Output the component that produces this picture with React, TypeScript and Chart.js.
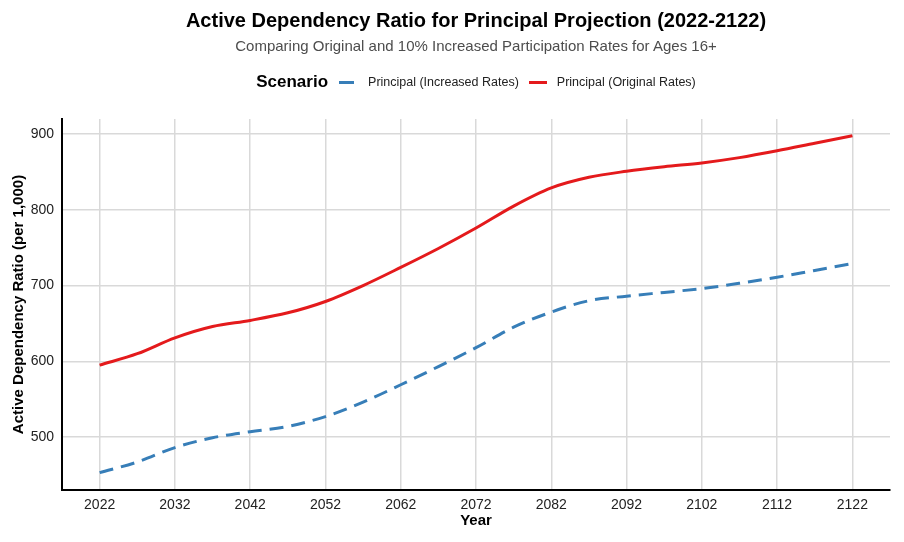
import { useEffect, useRef } from 'react'
import { Chart, registerables } from 'chart.js'

Chart.register(...registerables)

const years = [
  2022, 2027, 2032, 2037, 2042, 2047, 2052, 2057, 2062, 2067, 2072, 2077, 2082, 2087, 2092, 2097,
  2102, 2107, 2112, 2117, 2122,
]
const originalRates = [
  595, 610, 631, 646, 654, 664, 679, 700, 724, 749, 776, 805, 829, 843, 851, 857, 862, 869, 878,
  888, 898,
]
const increasedRates = [
  453, 467, 486, 499, 507, 514, 527, 546, 569, 593, 618, 645, 665, 680, 686, 691, 696, 703, 711,
  720, 729,
]
const xTicks = [2022, 2032, 2042, 2052, 2062, 2072, 2082, 2092, 2102, 2112, 2122]
const yTicks = [500, 600, 700, 800, 900]

const BLUE = '#377EB8'
const RED = '#E41A1C'
const FONT = '"Liberation Sans", Arial, sans-serif'

export default function App() {
  const chartRef = useRef<HTMLCanvasElement>(null)
  const chartInstance = useRef<Chart | null>(null)

  useEffect(() => {
    if (!chartRef.current) return
    if (chartInstance.current) chartInstance.current.destroy()
    const ctx = chartRef.current.getContext('2d')
    if (!ctx) return

    chartInstance.current = new Chart(ctx, {
      type: 'line',
      data: {
        datasets: [
          {
            label: 'Principal (Increased Rates)',
            data: years.map((y, i) => ({ x: y, y: increasedRates[i] })),
            borderColor: BLUE,
            borderWidth: 3,
            borderDash: [14, 8],
            pointRadius: 0,
            cubicInterpolationMode: 'monotone',
            fill: false,
          },
          {
            label: 'Principal (Original Rates)',
            data: years.map((y, i) => ({ x: y, y: originalRates[i] })),
            borderColor: RED,
            borderWidth: 3,
            pointRadius: 0,
            cubicInterpolationMode: 'monotone',
            fill: false,
          },
        ],
      },
      options: {
        responsive: false,
        animation: false,
        layout: { padding: { top: 119, right: 14, left: 0, bottom: 0 } },
        plugins: {
          legend: { display: false },
          tooltip: { enabled: false },
        },
        scales: {
          x: {
            type: 'linear',
            min: 2017,
            max: 2127,
            afterBuildTicks: (scale) => {
              scale.ticks = xTicks.map((v) => ({ value: v }))
            },
            afterFit: (scale) => {
              scale.height = 52
            },
            grid: { color: '#d9d9d9', lineWidth: 1.5, drawTicks: false },
            border: { color: '#000', width: 2 },
            ticks: {
              color: '#222',
              padding: 7,
              font: { family: FONT, size: 14 },
              callback: (v) => String(v),
            },
            title: {
              display: true,
              text: 'Year',
              color: '#000',
              font: { family: FONT, size: 15, weight: 'bold' },
              padding: { top: 0, bottom: 12 },
            },
          },
          y: {
            type: 'linear',
            min: 430,
            max: 920,
            afterBuildTicks: (scale) => {
              scale.ticks = yTicks.map((v) => ({ value: v }))
            },
            afterFit: (scale) => {
              scale.width = 62
            },
            grid: { color: '#d9d9d9', lineWidth: 1.5, drawTicks: false },
            border: { color: '#000', width: 2 },
            ticks: {
              color: '#222',
              padding: 8,
              font: { family: FONT, size: 14 },
            },
            title: {
              display: true,
              text: 'Active Dependency Ratio (per 1,000)',
              color: '#000',
              font: { family: FONT, size: 15, weight: 'bold' },
              padding: { top: 10, bottom: 0 },
            },
          },
        },
      },
    })

    return () => {
      if (chartInstance.current) {
        chartInstance.current.destroy()
        chartInstance.current = null
      }
    }
  }, [])

  return (
    <div
      style={{
        position: 'absolute',
        left: 0,
        top: 0,
        width: 904,
        height: 542,
        background: '#fff',
        fontFamily: FONT,
      }}
    >
      <canvas ref={chartRef} width={904} height={542} style={{ position: 'absolute', left: 0, top: 0 }} />
      <div
        style={{
          position: 'absolute',
          left: 62,
          width: 828,
          top: 9,
          textAlign: 'center',
          fontSize: 20,
          fontWeight: 'bold',
          color: '#000',
        }}
      >
        Active Dependency Ratio for Principal Projection (2022-2122)
      </div>
      <div
        style={{
          position: 'absolute',
          left: 62,
          width: 828,
          top: 37,
          textAlign: 'center',
          fontSize: 15,
          color: '#4d4d4d',
        }}
      >
        Comparing Original and 10% Increased Participation Rates for Ages 16+
      </div>
      <div
        style={{
          position: 'absolute',
          left: 62,
          width: 828,
          top: 71,
          height: 22,
          display: 'flex',
          justifyContent: 'center',
          alignItems: 'center',
        }}
      >
        <span style={{ fontSize: 17, fontWeight: 'bold', color: '#000', marginRight: 11 }}>Scenario</span>
        <span style={{ display: 'inline-block', width: 15, height: 3, background: BLUE, marginRight: 14 }} />
        <span style={{ fontSize: 12.5, color: '#222', marginRight: 10 }}>Principal (Increased Rates)</span>
        <span style={{ display: 'inline-block', width: 18, height: 3, background: RED, marginRight: 10 }} />
        <span style={{ fontSize: 12.5, color: '#222' }}>Principal (Original Rates)</span>
      </div>
    </div>
  )
}
